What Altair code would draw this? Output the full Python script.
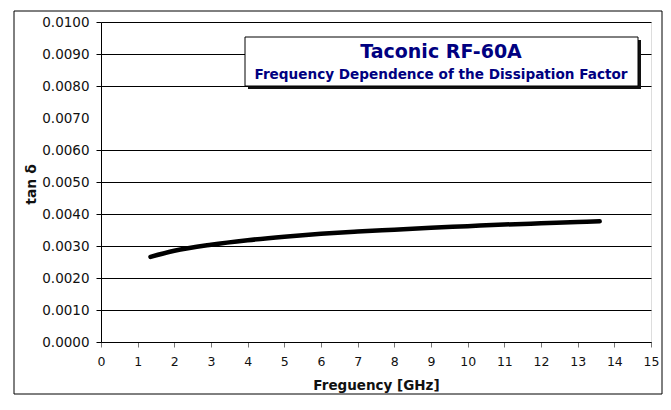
import altair as alt
import pandas as pd

# Data
freq_ghz = [1.35, 2, 3, 4, 5, 6, 7, 8, 9, 10, 11, 12, 13, 13.6]
tan_delta = [0.00266, 0.00285, 0.00304, 0.00318, 0.00329, 0.00338, 0.00345,
             0.00351, 0.00357, 0.00362, 0.00367, 0.00371, 0.00375, 0.00377]
x_ticks = list(range(0, 16))
y_ticks = [round(i * 0.001, 4) for i in range(0, 11)]
title_main = "Taconic RF-60A"
title_sub = "Frequency Dependence of the Dissipation Factor"
x_title = "Freguency [GHz]"
y_title = "tan δ"

df = pd.DataFrame({"f": freq_ghz, "t": tan_delta})
one = pd.DataFrame({"k": [0]})

W, H = 550, 320
FONT = "DejaVu Sans"

hide7 = "datum.value > 0.00695 && datum.value < 0.00705"

x_enc = alt.X(
    "f:Q",
    scale=alt.Scale(domain=[0, 15], nice=False),
    axis=alt.Axis(
        values=x_ticks, title=x_title, grid=False, format="d",
        tickSize=5, tickColor="#777777", labelPadding=8, labelFlush=False,
        labelFont=FONT, labelFontSize=12.5, labelColor="#111111",
        domainColor="black",
        titleFont=FONT, titleFontSize=13.5, titleFontWeight="bold",
        titleColor="#111111", titleBaseline="alphabetic", titleY=47,
    ),
)
y_enc = alt.Y(
    "t:Q",
    scale=alt.Scale(domain=[0, 0.01], nice=False),
    axis=alt.Axis(
        values=y_ticks, title=y_title, format=".4f", labelFlush=False,
        grid=True, gridColor="black", gridWidth=1,
        gridOpacity={"condition": {"test": hide7, "value": 0}, "value": 1},
        tickOpacity={"condition": {"test": hide7, "value": 0}, "value": 1},
        tickSize=5, tickColor="black", labelPadding=7,
        labelFont=FONT, labelFontSize=13.5, labelColor="#111111",
        domainColor="black",
        titleFont=FONT, titleFontSize=14, titleFontWeight="bold",
        titleColor="#111111", titleAngle=-90, titleAlign="center",
        titleBaseline="middle", titleX=-70, titleY=162,
    ),
)

curve = alt.Chart(df).mark_line(
    color="black", strokeWidth=4.5, strokeCap="round", interpolate="monotone"
).encode(x=x_enc, y=y_enc)

frame = alt.Chart(one).mark_rect(fill=None, stroke="black", strokeWidth=1).encode(
    x=alt.value(-87), x2=alt.value(561), y=alt.value(-11), y2=alt.value(372)
)

shadow = alt.Chart(one).mark_rect(fill="#111111").encode(
    x=alt.value(147), x2=alt.value(540), y=alt.value(18), y2=alt.value(67)
)
box = alt.Chart(one).mark_rect(fill="white", stroke="black", strokeWidth=1).encode(
    x=alt.value(144), x2=alt.value(537), y=alt.value(15), y2=alt.value(64)
)
t1 = alt.Chart(one).mark_text(
    font=FONT, fontSize=19, fontWeight="bold", color="#000080",
    align="center", baseline="middle"
).encode(x=alt.value(340), y=alt.value(30), text=alt.value(title_main))
t2 = alt.Chart(one).mark_text(
    font=FONT, fontSize=13.6, fontWeight="bold", color="#000080",
    align="center", baseline="middle"
).encode(x=alt.value(340), y=alt.value(53), text=alt.value(title_sub))

chart = alt.layer(curve, frame, shadow, box, t1, t2).properties(
    width=W, height=H,
    autosize=alt.AutoSizeParams(type="none"),
    padding={"left": 93, "top": 14, "right": 12, "bottom": 53},
).configure_view(stroke=None).configure(background="white")

chart.save("out.html", embed_options={"renderer": "svg", "actions": False})
